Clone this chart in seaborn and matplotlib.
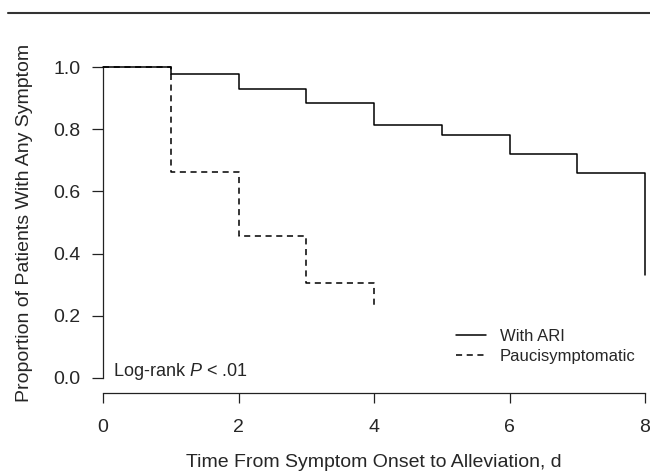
import pandas as pd
import matplotlib.pyplot as plt
import matplotlib.lines as mlines
import seaborn as sns

# Kaplan-Meier style step values
ari_days = [0, 1, 2, 3, 4, 5, 6, 7, 8]
ari_surv = [1.0, 0.977, 0.930, 0.884, 0.813, 0.780, 0.720, 0.660, 0.330]
pauci_days = [0, 1, 2, 3, 4]
pauci_surv = [1.0, 0.661, 0.458, 0.305, 0.228]
groups = ["With ARI", "Paucisymptomatic"]
x_ticks = [0, 2, 4, 6, 8]
y_ticks = [0.0, 0.2, 0.4, 0.6, 0.8, 1.0]

df = pd.concat([
    pd.DataFrame({"day": ari_days, "surv": ari_surv, "group": groups[0]}),
    pd.DataFrame({"day": pauci_days, "surv": pauci_surv, "group": groups[1]}),
])

sns.set_style("ticks")
plt.rcParams["font.family"] = ["Liberation Sans", "DejaVu Sans"]
plt.rcParams["mathtext.fontset"] = "custom"
plt.rcParams["mathtext.rm"] = "Liberation Sans"
plt.rcParams["mathtext.it"] = "Liberation Sans:italic"

dark = "#222222"
fig = plt.figure(figsize=(6.5, 4.71), dpi=100)
ax = fig.add_axes([103 / 650, 93 / 471, 542 / 650, 311 / 471])

sns.lineplot(data=df, x="day", y="surv", style="group", style_order=groups,
             dashes={groups[0]: "", groups[1]: (4, 3)}, color="black",
             drawstyle="steps-post", estimator=None, sort=True, lw=1.1,
             ax=ax, legend=False)
for ln in ax.lines:
    ln.set_clip_on(False)
# solid curve sits on top where both overlap
ax.lines[0].set_zorder(3)

ax.set_xlim(0, 8)
ax.set_ylim(0, 1)
ax.set_xticks(x_ticks)
ax.set_yticks(y_ticks)
ax.set_yticklabels(["{:.1f}".format(v) for v in y_ticks])

sns.despine(ax=ax)
ax.spines["bottom"].set_position(("outward", 10.5))
ax.spines["bottom"].set_bounds(0, 8)
ax.spines["left"].set_bounds(0, 1)
for s in ["left", "bottom"]:
    ax.spines[s].set_color(dark)
    ax.spines[s].set_linewidth(0.9)
ax.tick_params(axis="y", length=8, width=0.9, color=dark, pad=8, labelsize=14)
ax.tick_params(axis="x", length=7.2, width=0.9, color=dark, pad=11.5, labelsize=14)

ax.set_xlabel("Time From Symptom Onset to Alleviation, d", fontsize=14, labelpad=13)
ax.set_ylabel("Proportion of Patients With Any Symptom", fontsize=14, labelpad=15)

ax.text(0.143, 0.02, "Log-rank $P$ < .01", fontsize=13, va="center", ha="left")

handles = [mlines.Line2D([], [], color="black", lw=1.1),
           mlines.Line2D([], [], color="black", lw=1.1, ls=(0, (4, 3)))]
ax.legend(handles, groups, loc="upper left", bbox_to_anchor=(0.651, 0.158),
          frameon=False, fontsize=12, borderpad=0, borderaxespad=0,
          handlelength=1.8, handletextpad=0.85, labelspacing=0.3)

# rule across the top of the figure
fig.add_artist(mlines.Line2D([8 / 650, 1], [1 - 13 / 471, 1 - 13 / 471],
                             transform=fig.transFigure, color="#333333", lw=1.5))

fig.savefig("out.png", dpi=100)
